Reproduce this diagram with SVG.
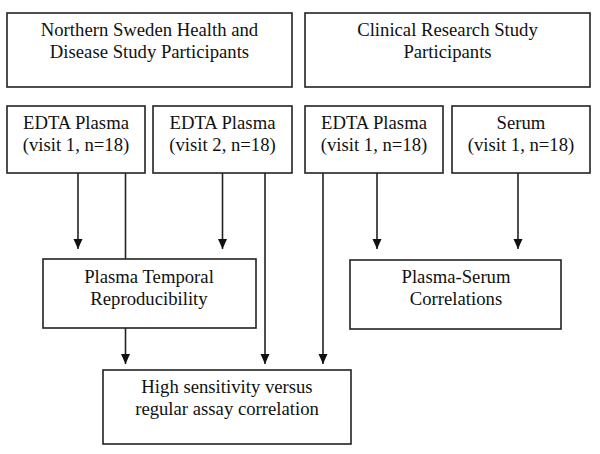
<svg xmlns="http://www.w3.org/2000/svg" width="600" height="454" viewBox="0 0 600 454">
<defs>
<marker id="ah" markerUnits="userSpaceOnUse" markerWidth="10" markerHeight="10" viewBox="0 0 10 10" refX="10" refY="5" orient="auto">
<path d="M0,0.5 L10,5 L0,9.5 Z" fill="#111"/>
</marker>
<style>
rect{fill:#fff;stroke:#222;stroke-width:1.6}
text{font-family:"Liberation Serif","Times New Roman",serif;font-size:18.7px;fill:#111;text-anchor:middle}
.c line{stroke:#222;stroke-width:1.6}
.c line.a{marker-end:url(#ah)}
</style>
</defs>
<rect x="0" y="0" width="600" height="454" style="fill:#fff;stroke:none"/>
<g class="c" id="connectors">
<line class="a" x1="78" y1="173" x2="78" y2="249"/>
<line x1="125.5" y1="173" x2="125.5" y2="259"/>
<line class="a" x1="222.5" y1="173" x2="222.5" y2="249"/>
<line class="a" x1="265" y1="173" x2="265" y2="364"/>
<line class="a" x1="125.5" y1="328" x2="125.5" y2="364"/>
<line class="a" x1="323" y1="173" x2="323" y2="364"/>
<line class="a" x1="377" y1="173" x2="377" y2="249"/>
<line class="a" x1="518" y1="173" x2="518" y2="249"/>
</g>
<g id="nshds">
<rect x="7" y="13" width="285" height="74"/>
<text x="149.5" y="36">Northern Sweden Health and</text>
<text x="149.5" y="58">Disease Study Participants</text>
</g>
<g id="crs">
<rect x="305" y="13" width="285" height="74"/>
<text x="447.5" y="36">Clinical Research Study</text>
<text x="447.5" y="58">Participants</text>
</g>
<g id="edta1">
<rect x="7" y="106" width="138" height="67"/>
<text x="76" y="129">EDTA Plasma</text>
<text x="76" y="151">(visit 1, n=18)</text>
</g>
<g id="edta2">
<rect x="153" y="106" width="139" height="67"/>
<text x="222.5" y="129">EDTA Plasma</text>
<text x="222.5" y="151">(visit 2, n=18)</text>
</g>
<g id="edta3">
<rect x="305" y="106" width="138" height="67"/>
<text x="374" y="129">EDTA Plasma</text>
<text x="374" y="151">(visit 1, n=18)</text>
</g>
<g id="serum">
<rect x="452" y="106" width="138" height="67"/>
<text x="521" y="129">Serum</text>
<text x="521" y="151">(visit 1, n=18)</text>
</g>
<g id="temporal">
<rect x="43" y="259" width="213" height="69"/>
<text x="149" y="283">Plasma Temporal</text>
<text x="149" y="305">Reproducibility</text>
</g>
<g id="plasmaserum">
<rect x="350" y="260" width="211" height="69"/>
<text x="456" y="283">Plasma-Serum</text>
<text x="456" y="305">Correlations</text>
</g>
<g id="highsens">
<rect x="103" y="370" width="248" height="74"/>
<text x="227" y="393">High sensitivity versus</text>
<text x="227" y="415">regular assay correlation</text>
</g>
</svg>
